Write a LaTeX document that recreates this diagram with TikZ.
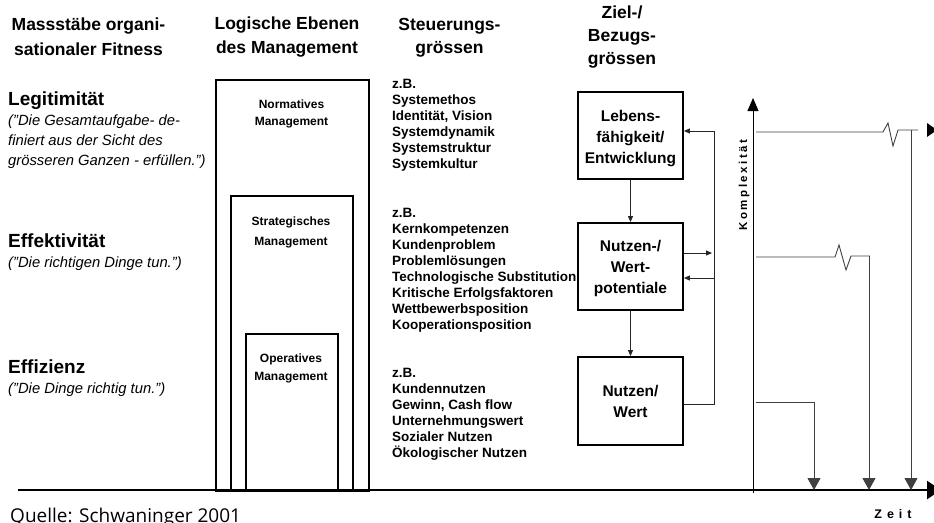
\documentclass[tikz,border=0pt]{standalone}
\usepackage{fontspec}
\setmainfont{Liberation Sans}
\newfontfamily\quellefont{Open Sans}
\newfontfamily\spacedfont[LetterSpace=22]{Liberation Sans}
\newfontfamily\widefont[LetterSpace=40]{Liberation Sans}
\usetikzlibrary{arrows.meta}

\begin{document}
\begin{tikzpicture}[x=1pt,y=-1pt,
  head/.style={font=\fontsize{17.5}{#1}\selectfont\bfseries, align=center, inner sep=0pt, anchor=base},
  level/.style={font=\fontsize{19}{22}\selectfont\bfseries, inner sep=0pt, anchor=base west},
  quote/.style={font=\fontsize{14.8}{20}\selectfont\itshape, align=left, inner sep=0pt, anchor=base west},
  mgmtbox/.style={draw, line width=1.8pt, inner sep=0pt, anchor=north west},
  mgmtlabel/.style={font=\fontsize{12}{#1}\selectfont\bfseries, align=center, inner sep=0pt, anchor=base},
  list/.style={font=\fontsize{13.5}{16}\selectfont\bfseries, align=left, inner sep=0pt, anchor=base west},
  goalbox/.style={draw, line width=1.8pt, minimum width=105pt, minimum height=87pt, inner sep=0pt},
  goaltext/.style={font=\fontsize{15.5}{21}\selectfont\bfseries, align=center, inner sep=0pt, anchor=base},
  flow/.style={line width=0.9pt, black!85, -{Triangle[length=6pt,width=5pt]}},
  curve/.style={line width=0.9pt, black!75},
  bigtip/.style={-{Triangle[length=12pt,width=13pt]}},
]
\useasboundingbox (0,0) rectangle (934,522);
\clip (0,0) rectangle (934,522);

% column headings (anchored at the baseline of their last line)
\node[head=25] (h1) at (88.5,55) {Massstäbe organi-\\sationaler Fitness};
\node[head=24] (h2) at (287,53) {Logische Ebenen\\des Management};
\node[head=23] (h3) at (449.5,53) {Steuerungs-\\grössen};
\node[head=23] (h4) at (622,64) {Ziel-/\\Bezugs-\\grössen};

% fitness criteria
\node[level] (legit) at (8,105) {Legitimität};
\node[quote] (legitq) at (8,165) {("Die Gesamtaufgabe- de-\\finiert aus der Sicht des\\grösseren Ganzen - erfüllen.")};
\node[level] (effekt) at (8,247) {Effektivität};
\node[quote] (effektq) at (8,267) {("Die richtigen Dinge tun.")};
\node[level] (effiz) at (8,373) {Effizienz};
\node[quote] (effizq) at (8,393) {("Die Dinge richtig tun.")};

% nested management levels
\node[mgmtbox, minimum width=153pt, minimum height=411pt] (norm) at (215,79) {};
\node[mgmtbox, minimum width=122pt, minimum height=295pt] (strat) at (230,195) {};
\node[mgmtbox, minimum width=92pt, minimum height=157pt] (oper) at (245,333) {};
\node[mgmtlabel=17] (normlab) at (291.5,125) {Normatives\\Management};
\node[mgmtlabel=20] (stratlab) at (291,245) {Strategisches\\Management};
\node[mgmtlabel=18] (operlab) at (291,380) {Operatives\\Management};

% steering quantities
\node[list] (list1) at (392,168) {z.B.\\Systemethos\\Identität, Vision\\Systemdynamik\\Systemstruktur\\Systemkultur};
\node[list] (list2) at (392,329) {z.B.\\Kernkompetenzen\\Kundenproblem\\Problemlösungen\\Technologische Substitution\\Kritische Erfolgsfaktoren\\Wettbewerbsposition\\Kooperationsposition};
\node[list] (list3) at (392,457) {z.B.\\Kundennutzen\\Gewinn, Cash flow\\Unternehmungswert\\Sozialer Nutzen\\Ökologischer Nutzen};

% goal quantities
\node[goalbox] (lf) at (630.5,135.5) {};
\node[goalbox] (nw) at (630.5,266.5) {};
\node[goalbox, minimum height=88pt] (nutzen) at (630.5,401) {};
\node[goaltext] (lftext) at (630.5,163) {Lebens-\\fähigkeit/\\Entwicklung};
\node[goaltext] (nwtext) at (630.5,293) {Nutzen-/\\Wert-\\potentiale};
\node[goaltext] (nutzentext) at (630.5,417) {Nutzen/\\Wert};

\draw[flow] (lf.south) -- (nw.north);
\draw[flow] (nw.south) -- (nutzen.north);

\coordinate (fbtop) at (714,131);
\coordinate (fbbot) at (714,404);
\coordinate (outA) at (712,253);
\coordinate (inB) at (714,278);
\draw[flow] (nutzen.east |- fbbot) -- (fbbot) -- (fbtop) -- (lf.east |- fbtop);
\draw[flow] (nw.east |- outA) -- (outA);
\draw[flow] (inB) -- (nw.east |- inB);

% time axis and complexity axis
\coordinate (xleft) at (18,490);
\coordinate (xright) at (941,490);
\coordinate (ybot) at (753,493);
\coordinate (ytop) at (753,98);
\draw[line width=2.5pt, -{Triangle[length=14pt,width=18pt]}] (xleft) -- (xright);
\draw[line width=0.9pt, -{Triangle[length=13pt,width=11pt]}] (ybot) -- (ytop);
\node[rotate=90, font=\spacedfont\fontsize{11.5}{12}\selectfont\bfseries, inner sep=0pt, anchor=base] (kompl) at (747,185) {Komplexität};
\node[font=\widefont\fontsize{12.5}{13}\selectfont\bfseries, inner sep=0pt, anchor=base] (zeit) at (893,518) {Zeit};

% complexity levels falling back onto the time axis
\coordinate (t1) at (911,490);
\coordinate (t2) at (869,490);
\coordinate (t3) at (814,490);
\draw[curve] (756,132) -- (883,132) -- (888,123) -- (893,146) -- (898,130) -- (918,130);
\draw[curve, bigtip] (911,130) -- (t1);
\fill (927,123) -- (937,130) -- (927,137) -- cycle;
\draw[curve] (756,257) -- (835,257) -- (839,245) -- (846,270) -- (851,256) -- (870,256);
\draw[curve, bigtip] (869,256) -- (t2);
\draw[curve, bigtip] (756,402) -- (814,402) -- (t3);

% source
\node[font=\quellefont\fontsize{19}{22}\selectfont, inner sep=0pt, anchor=base west] (quelle) at (10,522) {Quelle: Schwaninger 2001};
\end{tikzpicture}
\end{document}
